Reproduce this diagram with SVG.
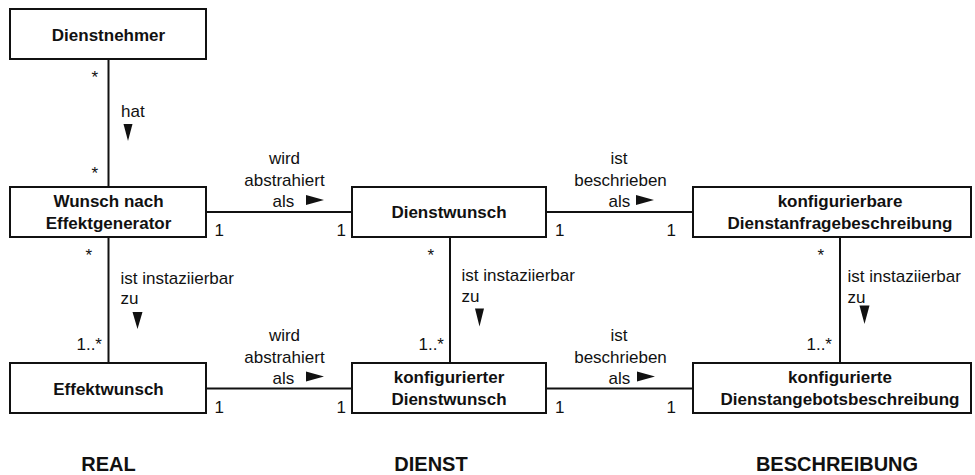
<svg xmlns="http://www.w3.org/2000/svg" width="975" height="475" viewBox="0 0 975 475">
  <style>
    .box { fill: #ffffff; stroke: #111111; stroke-width: 2; }
    .edge { fill: none; stroke: #111111; stroke-width: 2; }
    .name { font-family: "Liberation Sans", Arial, sans-serif; font-size: 17px; font-weight: bold; fill: #111111; text-anchor: middle; }
    .lbl { font-family: "Liberation Sans", Arial, sans-serif; font-size: 17px; fill: #111111; }
    .mid { text-anchor: middle; }
    .end { text-anchor: end; }
    .dir { fill: #111111; stroke: none; }
    .layer { font-family: "Liberation Sans", Arial, sans-serif; font-size: 20px; font-weight: bold; fill: #111111; text-anchor: middle; }
  </style>
  <rect width="975" height="475" fill="#ffffff"/>

  <!-- associations -->
  <g id="connectors">
    <line class="edge" x1="108.5" y1="59" x2="108.5" y2="187"/>
    <line class="edge" x1="108.5" y1="237" x2="108.5" y2="363"/>
    <line class="edge" x1="450" y1="237" x2="450" y2="363"/>
    <line class="edge" x1="840" y1="237" x2="840" y2="363"/>
    <line class="edge" x1="206" y1="212" x2="352" y2="212"/>
    <line class="edge" x1="546" y1="212" x2="693" y2="212"/>
    <line class="edge" x1="206" y1="388.5" x2="352" y2="388.5"/>
    <line class="edge" x1="546" y1="388.5" x2="693" y2="388.5"/>

    <!-- Dienstnehmer – Wunsch nach Effektgenerator -->
    <text class="lbl end" x="98" y="83">*</text>
    <text class="lbl" x="121" y="117">hat</text>
    <polygon class="dir" points="123.5,124 132.5,124 128,141"/>
    <text class="lbl end" x="98" y="179">*</text>

    <!-- Wunsch nach Effektgenerator – Effektwunsch -->
    <text class="lbl end" x="92" y="260.5">*</text>
    <text class="lbl" x="120.5" y="284">ist instaziierbar</text>
    <text class="lbl" x="120.5" y="304">zu</text>
    <polygon class="dir" points="132.5,312 142.5,312 137.5,329"/>
    <text class="lbl end" x="102" y="349.5">1..*</text>

    <!-- Dienstwunsch – konfigurierter Dienstwunsch -->
    <text class="lbl end" x="434" y="260.5">*</text>
    <text class="lbl" x="461.5" y="280.5">ist instaziierbar</text>
    <text class="lbl" x="461.5" y="301.5">zu</text>
    <polygon class="dir" points="475,308.5 484,308.5 479.5,326.5"/>
    <text class="lbl end" x="444" y="349.5">1..*</text>

    <!-- konfigurierbare – konfigurierte Beschreibung -->
    <text class="lbl end" x="824" y="260.5">*</text>
    <text class="lbl" x="847.5" y="281.5">ist instaziierbar</text>
    <text class="lbl" x="847.5" y="303">zu</text>
    <polygon class="dir" points="859.5,305.5 869.5,305.5 864.5,324"/>
    <text class="lbl end" x="832" y="350">1..*</text>

    <!-- Wunsch nach Effektgenerator – Dienstwunsch -->
    <text class="lbl mid" x="284.5" y="164">wird</text>
    <text class="lbl mid" x="284.5" y="186">abstrahiert</text>
    <text class="lbl" x="272.5" y="207">als</text>
    <polygon class="dir" points="306,195 306,205 324,200"/>
    <text class="lbl" x="214.5" y="236">1</text>
    <text class="lbl" x="336.5" y="236">1</text>

    <!-- Dienstwunsch – konfigurierbare Dienstanfragebeschreibung -->
    <text class="lbl mid" x="619" y="164">ist</text>
    <text class="lbl mid" x="620.5" y="186">beschrieben</text>
    <text class="lbl" x="608.5" y="207">als</text>
    <polygon class="dir" points="636,195 636,205 654,200"/>
    <text class="lbl" x="555" y="236">1</text>
    <text class="lbl" x="666.5" y="236">1</text>

    <!-- Effektwunsch – konfigurierter Dienstwunsch -->
    <text class="lbl mid" x="284.5" y="340.5">wird</text>
    <text class="lbl mid" x="284.5" y="362.5">abstrahiert</text>
    <text class="lbl" x="272.5" y="383.5">als</text>
    <polygon class="dir" points="306,371.5 306,381.5 324,376.5"/>
    <text class="lbl" x="214.5" y="412.5">1</text>
    <text class="lbl" x="336.5" y="412.5">1</text>

    <!-- konfigurierter Dienstwunsch – konfigurierte Dienstangebotsbeschreibung -->
    <text class="lbl mid" x="619" y="340.5">ist</text>
    <text class="lbl mid" x="620.5" y="362.5">beschrieben</text>
    <text class="lbl" x="608.5" y="383.5">als</text>
    <polygon class="dir" points="637,371.5 637,381.5 655,376.5"/>
    <text class="lbl" x="555" y="412.5">1</text>
    <text class="lbl" x="666.5" y="412.5">1</text>
  </g>

  <!-- classes -->
  <g id="dienstnehmer">
    <rect class="box" x="10" y="9" width="196" height="50"/>
    <text class="name" x="108.5" y="40.5">Dienstnehmer</text>
  </g>
  <g id="wunsch-nach-effektgenerator">
    <rect class="box" x="10" y="187" width="196" height="50"/>
    <text class="name" x="108.5" y="206.5">Wunsch nach</text>
    <text class="name" x="108.5" y="228.5">Effektgenerator</text>
  </g>
  <g id="effektwunsch">
    <rect class="box" x="10" y="363" width="196" height="50"/>
    <text class="name" x="108.5" y="394.5">Effektwunsch</text>
  </g>
  <g id="dienstwunsch">
    <rect class="box" x="352" y="187" width="194" height="50"/>
    <text class="name" x="449" y="218">Dienstwunsch</text>
  </g>
  <g id="konfigurierter-dienstwunsch">
    <rect class="box" x="352" y="363" width="194" height="50"/>
    <text class="name" x="449" y="382.5">konfigurierter</text>
    <text class="name" x="449" y="404.5">Dienstwunsch</text>
  </g>
  <g id="konfigurierbare-dienstanfragebeschreibung">
    <rect class="box" x="693" y="187" width="278" height="50"/>
    <text class="name" x="840" y="206.5">konfigurierbare</text>
    <text class="name" x="840" y="228.5">Dienstanfragebeschreibung</text>
  </g>
  <g id="konfigurierte-dienstangebotsbeschreibung">
    <rect class="box" x="693" y="363" width="278" height="50"/>
    <text class="name" x="840" y="383">konfigurierte</text>
    <text class="name" x="840" y="405">Dienstangebotsbeschreibung</text>
  </g>

  <!-- layer captions -->
  <g id="captions">
    <text class="layer" x="108.5" y="471">REAL</text>
    <text class="layer" x="431" y="471">DIENST</text>
    <text class="layer" x="837" y="471">BESCHREIBUNG</text>
  </g>
</svg>
